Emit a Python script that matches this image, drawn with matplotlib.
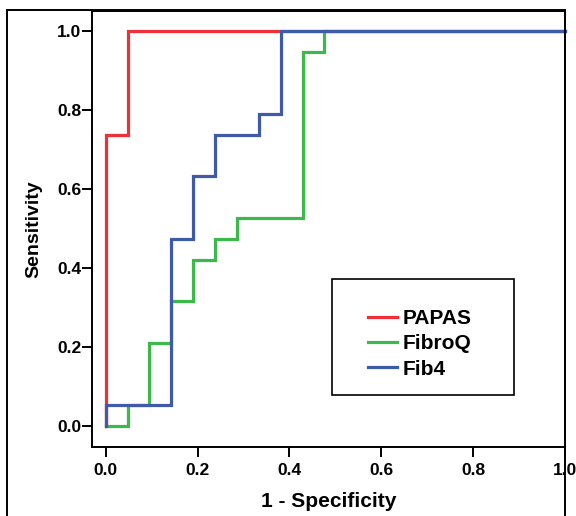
import matplotlib
matplotlib.use("Agg")
import matplotlib.pyplot as plt
from matplotlib.patches import Rectangle

plt.rcParams["font.family"] = ["Liberation Sans", "DejaVu Sans"]
plt.rcParams["font.weight"] = "bold"

# ROC step curves (1 - specificity, sensitivity)
papas_fpr = [0.0, 0.0, 0.048, 0.048, 1.0]
papas_tpr = [0.0, 0.737, 0.737, 1.0, 1.0]

fibroq_fpr = [0.0, 0.048, 0.048, 0.095, 0.095, 0.143, 0.143, 0.190, 0.190,
              0.238, 0.238, 0.286, 0.286, 0.429, 0.429, 0.476, 0.476, 1.0]
fibroq_tpr = [0.0, 0.0, 0.053, 0.053, 0.211, 0.211, 0.316, 0.316, 0.421,
              0.421, 0.474, 0.474, 0.526, 0.526, 0.947, 0.947, 1.0, 1.0]

fib4_fpr = [0.0, 0.0, 0.143, 0.143, 0.190, 0.190, 0.238, 0.238, 0.333,
            0.333, 0.381, 0.381, 1.0]
fib4_tpr = [0.0, 0.053, 0.053, 0.474, 0.474, 0.632, 0.632, 0.737, 0.737,
            0.789, 0.789, 1.0, 1.0]

labels = ["PAPAS", "FibroQ", "Fib4"]
colors = ["#ee3039", "#3cb94a", "#3f5aa8"]
ticks = [0.0, 0.2, 0.4, 0.6, 0.8, 1.0]

W, H = 576, 516
fig = plt.figure(figsize=(W / 100, H / 100), dpi=100)
ax = fig.add_axes([92 / W, 1 - 447 / H, (565 - 92) / W, (447 - 11) / H])

curves = [(papas_fpr, papas_tpr), (fibroq_fpr, fibroq_tpr), (fib4_fpr, fib4_tpr)]
for (xs, ys), lab, col in zip(curves, labels, colors):
    ax.plot(xs, ys, color=col, linewidth=2.3, label=lab,
            solid_joinstyle="miter", clip_on=False)

ax.set_xlim(-0.03, 1.0)
ax.set_ylim(-0.053, 1.05)
ax.set_xticks(ticks)
ax.set_yticks(ticks)
ax.set_xticklabels([f"{t:.1f}" for t in ticks])
ax.set_yticklabels([f"{t:.1f}" for t in ticks])
ax.tick_params(direction="out", length=7.5, width=1.4, labelsize=12.5)
ax.tick_params(axis="y", pad=0)
ax.tick_params(axis="x", pad=4)
for lbl in ax.get_xticklabels() + ax.get_yticklabels():
    lbl.set_fontweight("bold")
for sp in ax.spines.values():
    sp.set_linewidth(1.4)

ax.set_xlabel("1 - Specificity", fontsize=15, fontweight="bold", labelpad=10)
ax.set_ylabel("Sensitivity", fontsize=14, fontweight="bold", labelpad=11)

# legend box
ax.add_patch(Rectangle((0.507, 0.119), 0.385, 0.266, transform=ax.transAxes,
                       fill=False, edgecolor="black", linewidth=1.2))
leg = ax.legend(loc="upper left", bbox_to_anchor=(0.5835, 0.316), frameon=False,
                fontsize=15, handlelength=1.4, handletextpad=0.25,
                labelspacing=0.3, borderpad=0, borderaxespad=0)
for t in leg.get_texts():
    t.set_fontweight("bold")

# outer frame
fig.add_artist(Rectangle((7 / W, -0.1), (565 - 7) / W, 1.1 - 10 / H,
                         transform=fig.transFigure, fill=False,
                         edgecolor="black", linewidth=1.4))

fig.savefig("out.png", dpi=100)
